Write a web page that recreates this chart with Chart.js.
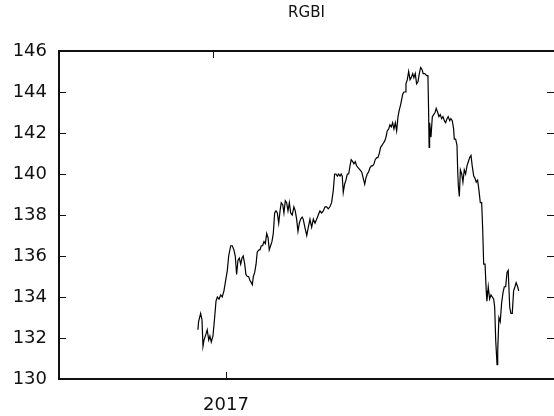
<!DOCTYPE html>
<html>
<head>
<meta charset="utf-8">
<script src="https://cdn.jsdelivr.net/npm/chart.js@4/dist/chart.umd.min.js"></script>
<style>
  html, body { margin: 0; padding: 0; background: #fff; }
  #wrap { width: 554px; height: 416px; }
</style>
</head>
<body>
<div id="wrap"><canvas id="c" width="554" height="416"></canvas></div>
<script>
// RGBI index, daily closes (time as decimal years)
const dates = [
  2016.834, 2016.838, 2016.850, 2016.858, 2016.864, 2016.870, 2016.882, 2016.889, 2016.898, 2016.905,
  2016.913, 2016.923, 2016.933, 2016.941, 2016.949, 2016.959, 2016.969, 2016.978, 2016.988, 2016.998,
  2017.008, 2017.016, 2017.028, 2017.037, 2017.047, 2017.055, 2017.063, 2017.071, 2017.079, 2017.087,
  2017.095, 2017.102, 2017.111, 2017.118, 2017.126, 2017.134, 2017.142, 2017.150, 2017.156, 2017.162,
  2017.170, 2017.178, 2017.185, 2017.195, 2017.201, 2017.209, 2017.217, 2017.225, 2017.233, 2017.241,
  2017.249, 2017.256, 2017.264, 2017.272, 2017.280, 2017.288, 2017.296, 2017.304, 2017.312, 2017.320,
  2017.327, 2017.336, 2017.343, 2017.351, 2017.359, 2017.367, 2017.375, 2017.383, 2017.392, 2017.402,
  2017.410, 2017.418, 2017.426, 2017.434, 2017.442, 2017.451, 2017.457, 2017.467, 2017.478, 2017.487,
  2017.497, 2017.507, 2017.517, 2017.527, 2017.537, 2017.546, 2017.556, 2017.566, 2017.576, 2017.586,
  2017.596, 2017.605, 2017.615, 2017.625, 2017.635, 2017.643, 2017.651, 2017.659, 2017.667, 2017.675,
  2017.682, 2017.688, 2017.694, 2017.702, 2017.710, 2017.718, 2017.726, 2017.734, 2017.741, 2017.750,
  2017.757, 2017.765, 2017.773, 2017.783, 2017.793, 2017.803, 2017.812, 2017.821, 2017.828, 2017.836,
  2017.844, 2017.852, 2017.860, 2017.868, 2017.876, 2017.883, 2017.892, 2017.899, 2017.907, 2017.915,
  2017.923, 2017.931, 2017.939, 2017.947, 2017.954, 2017.963, 2017.970, 2017.978, 2017.986, 2017.994,
  2018.002, 2018.010, 2018.018, 2018.025, 2018.034, 2018.046, 2018.053, 2018.061, 2018.065, 2018.073,
  2018.081, 2018.089, 2018.096, 2018.105, 2018.112, 2018.120, 2018.128, 2018.136, 2018.144, 2018.152,
  2018.160, 2018.167, 2018.176, 2018.188, 2018.195, 2018.199, 2018.202, 2018.205, 2018.213, 2018.221,
  2018.229, 2018.237, 2018.244, 2018.253, 2018.260, 2018.268, 2018.276, 2018.284, 2018.292, 2018.300,
  2018.308, 2018.315, 2018.324, 2018.331, 2018.339, 2018.347, 2018.351, 2018.359, 2018.367, 2018.371,
  2018.375, 2018.381, 2018.387, 2018.395, 2018.402, 2018.410, 2018.418, 2018.426, 2018.434, 2018.442,
  2018.450, 2018.457, 2018.466, 2018.473, 2018.481, 2018.489, 2018.497, 2018.505, 2018.513, 2018.519,
  2018.525, 2018.533, 2018.540, 2018.544, 2018.552, 2018.560, 2018.568, 2018.576, 2018.584, 2018.590,
  2018.596, 2018.604, 2018.608, 2018.615, 2018.623, 2018.631, 2018.639, 2018.647, 2018.655, 2018.663,
  2018.670, 2018.679, 2018.686, 2018.694, 2018.702, 2018.710, 2018.717, 2018.726, 2018.732
];

const rgbi = [
  132.4, 132.8, 133.2, 132.9, 131.6, 131.9, 132.2, 132.4, 131.9, 132.1,
  131.8, 132.1, 133.0, 133.8, 134.0, 133.9, 134.1, 134.0, 134.3, 134.8,
  135.3, 136.0, 136.5, 136.5, 136.3, 136.0, 135.1, 135.8, 135.9, 135.6,
  135.9, 136.0, 135.6, 135.1, 135.0, 135.0, 134.8, 134.7, 134.6, 135.0,
  135.2, 135.6, 136.2, 136.3, 136.3, 136.5, 136.5, 136.7, 136.6, 137.1,
  136.9, 136.3, 136.5, 136.7, 137.1, 138.1, 138.2, 138.1, 137.6, 138.2,
  138.6, 138.5, 138.1, 138.7, 138.6, 138.2, 138.6, 138.1, 138.0, 138.4,
  138.2, 137.8, 137.2, 137.6, 137.8, 137.9, 137.8, 137.4, 137.0, 137.4,
  137.8, 137.4, 137.8, 137.6, 137.8, 138.0, 138.2, 138.1, 138.2, 138.4,
  138.4, 138.3, 138.4, 138.6, 139.2, 140.0, 140.0, 139.9, 140.0, 139.9,
  140.0, 139.9, 139.1, 139.5, 139.7, 140.0, 140.0, 140.4, 140.7, 140.6,
  140.5, 140.6, 140.4, 140.3, 140.2, 140.1, 139.8, 139.5, 139.8, 140.0,
  140.1, 140.3, 140.4, 140.4, 140.5, 140.7, 140.8, 140.8, 141.0, 141.3,
  141.4, 141.5, 141.6, 141.8, 142.1, 142.2, 142.4, 142.3, 142.5, 142.2,
  142.5, 142.1, 142.8, 143.1, 143.4, 143.9, 144.0, 144.0, 144.4, 144.6,
  145.0, 144.6, 144.7, 144.9, 144.7, 144.9, 144.4, 144.5, 144.9, 145.2,
  145.1, 144.9, 144.9, 144.8, 144.8, 143.1, 141.3, 142.5, 141.8, 142.8,
  142.9, 143.0, 143.2, 143.0, 142.8, 142.9, 142.7, 142.8, 142.6, 142.5,
  142.7, 142.8, 142.6, 142.7, 142.6, 142.2, 141.7, 141.7, 141.4, 140.2,
  139.4, 138.9, 140.2, 140.0, 139.6, 140.2, 140.0, 140.4, 140.6, 140.8,
  140.9, 140.4, 139.9, 139.8, 139.6, 139.7, 139.2, 138.6, 138.6, 137.3,
  135.6, 135.6, 134.3, 133.8, 134.5, 133.9, 134.1, 134.0, 133.9, 133.5,
  131.9, 130.7, 131.4, 133.0, 132.8, 133.7, 134.2, 134.5, 134.5, 135.2,
  135.3, 133.5, 133.2, 133.2, 134.3, 134.5, 134.7, 134.5, 134.3
];

// axis ticks
const xTickValues = [2017];
const xTickLabels = ['2017'];
const yTickValues = [130, 132, 134, 136, 138, 140, 142, 144, 146];

const FONT = 'DejaVu Sans, Verdana, sans-serif';
const INK = '#111';

// short inward tick marks on all four sides of the frame
const innerTicks = {
  id: 'innerTicks',
  afterDraw(chart) {
    const { ctx, chartArea: a, scales } = chart;
    const len = 7;
    ctx.save();
    ctx.strokeStyle = INK;
    ctx.lineWidth = 1;
    ctx.beginPath();
    scales.y.ticks.forEach(t => {
      const py = Math.round(scales.y.getPixelForValue(t.value)) + 0.5;
      ctx.moveTo(a.left, py); ctx.lineTo(a.left + len, py);
      ctx.moveTo(a.right - len, py); ctx.lineTo(a.right, py);
    });
    scales.x.ticks.forEach(t => {
      const px = Math.round(scales.x.getPixelForValue(t.value)) + 0.5;
      ctx.moveTo(px, a.bottom); ctx.lineTo(px, a.bottom - len);
    });
    scales.x2.ticks.forEach(t => {
      const px = Math.round(scales.x2.getPixelForValue(t.value)) + 0.5;
      ctx.moveTo(px, a.top); ctx.lineTo(px, a.top + len);
    });
    ctx.stroke();
    ctx.restore();
  }
};

new Chart(document.getElementById('c'), {
  type: 'line',
  data: {
    datasets: [{
      label: 'RGBI',
      data: dates.map((d, i) => ({ x: d, y: rgbi[i] })),
      borderColor: '#000',
      borderWidth: 1.2,
      pointRadius: 0,
      tension: 0,
      fill: false
    }]
  },
  options: {
    responsive: false,
    animation: false,
    layout: { padding: 0 },
    plugins: {
      legend: { display: false },
      tooltip: { enabled: false },
      title: {
        display: true,
        fullSize: false,
        text: 'RGBI',
        color: INK,
        font: { family: FONT, size: 15, weight: 'normal', lineHeight: 1.2 },
        padding: { top: 4, bottom: 29 }
      }
    },
    scales: {
      x: {
        type: 'linear',
        position: 'bottom',
        min: 2016.012,
        max: 2018.941,
        afterBuildTicks: s => { s.ticks = xTickValues.map(v => ({ value: v })); },
        afterFit: s => { s.height = 37; },
        grid: { display: false, drawTicks: false },
        border: { display: true, color: INK, width: 2 },
        ticks: {
          color: INK,
          font: { family: FONT, size: 18 },
          padding: 16,
          maxRotation: 0,
          callback: v => xTickLabels[xTickValues.indexOf(v)] ?? ''
        }
      },
      x2: {
        type: 'linear',
        position: 'top',
        min: 2016.089,
        max: 2019.018,
        afterBuildTicks: s => { s.ticks = xTickValues.map(v => ({ value: v })); },
        afterFit: s => { s.height = 0; },
        grid: { display: false, drawTicks: false },
        border: { display: true, color: INK, width: 2 },
        ticks: { display: false }
      },
      y: {
        type: 'linear',
        min: 130,
        max: 146,
        afterBuildTicks: s => { s.ticks = yTickValues.map(v => ({ value: v })); },
        afterFit: s => { s.width = 59; },
        grid: { display: false, drawTicks: false },
        border: { display: true, color: INK, width: 2 },
        ticks: {
          color: INK,
          font: { family: FONT, size: 18 },
          padding: 12
        }
      }
    }
  },
  plugins: [innerTicks]
});
</script>
</body>
</html>
